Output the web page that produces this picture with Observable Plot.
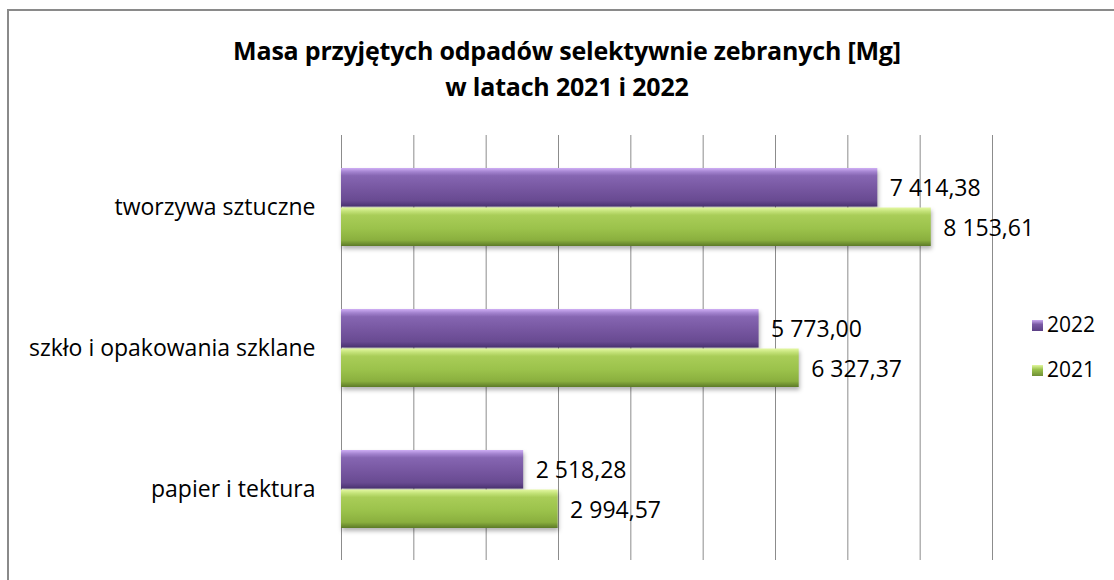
<!DOCTYPE html>
<html>
<head>
<meta charset="utf-8">
<script src="https://cdn.jsdelivr.net/npm/d3@7"></script>
<script src="https://cdn.jsdelivr.net/npm/@observablehq/plot@0.6"></script>
<style>
  body { margin: 0; background: #fff; font-family: "Open Sans", Lato, sans-serif; }
  #wrap { position: relative; width: 1114px; height: 580px; overflow: hidden; background: #fff; }
  #frame { position: absolute; left: 7px; top: 9px; width: 1200px; height: 700px; border: 2px solid #8a8a8a; box-sizing: border-box; }
  #title { position: absolute; left: 0; top: 32px; width: 1134px; text-align: center; font-weight: bold; font-size: 25px; line-height: 36px; color: #000; letter-spacing: -0.2px; }
  #chart { position: absolute; left: 0; top: 130px; }
  .legend { position: absolute; left: 1032px; font-size: 21px; line-height: 24px; color: #000; }
  .legend span.sw { display: inline-block; width: 11px; height: 11px; margin-right: 4px; vertical-align: 1px; }
  #chart svg .bars { filter: drop-shadow(1px 3px 2px rgba(0,0,0,0.3)); }
</style>
</head>
<body>
<div id="wrap">
  <div id="frame"></div>
  <div id="title">Masa przyjętych odpadów selektywnie zebranych [Mg]<br>w latach 2021 i 2022</div>
  <div id="chart"></div>
  <div class="legend" style="top:312px"><span class="sw" style="background:linear-gradient(#c9a8f0,#7a5aa5 40%,#5b3f85)"></span>2022</div>
  <div class="legend" style="top:357px"><span class="sw" style="background:linear-gradient(#e2f7a0,#9cc44c 40%,#6f8f35)"></span>2021</div>
</div>
<script>
const categories = ["tworzywa sztuczne", "szkło i opakowania szklane", "papier i tektura"];
const years = ["2022", "2021"];
const values2022 = [7414.38, 5773.00, 2518.28];
const values2021 = [8153.61, 6327.37, 2994.57];
const gridTicks = [0, 1000, 2000, 3000, 4000, 5000, 6000, 7000, 8000, 9000];

const pl = d3.formatLocale({decimal: ",", thousands: " ", grouping: [3], currency: ["", " zł"]});
const fmt = pl.format(",.2f");

const data2022 = categories.map((c, i) => ({category: c, year: years[0], value: values2022[i]}));
const data2021 = categories.map((c, i) => ({category: c, year: years[1], value: values2021[i]}));

const chart = Plot.plot({
  width: 1114,
  height: 450,
  marginLeft: 341,
  marginRight: 122,
  marginTop: 5,
  marginBottom: 20,
  style: {fontFamily: "'Open Sans', Lato, sans-serif", background: "transparent", overflow: "visible"},
  x: {domain: [0, 9000], axis: null},
  y: {domain: categories, padding: 0.45, paddingOuter: 0.225, axis: null},
  marks: [
    Plot.gridX(gridTicks, {stroke: "#8c8c8c", strokeOpacity: 1, strokeWidth: 1}),
    Plot.axisY({tickSize: 0, tickPadding: 26, fontSize: 23, label: null, color: "#000"}),
    Plot.barX(data2022, {y: "category", x: "value", fill: "url(#gradPurple)", insetBottom: 39.5, className: "bars"}),
    Plot.barX(data2021, {y: "category", x: "value", fill: "url(#gradGreen)", insetTop: 39.5, className: "bars"}),
    Plot.text(data2022, {y: "category", x: "value", text: d => fmt(d.value), dx: 12, dy: -19, textAnchor: "start", fontSize: 23, fill: "#000"}),
    Plot.text(data2021, {y: "category", x: "value", text: d => fmt(d.value), dx: 12, dy: 21, textAnchor: "start", fontSize: 23, fill: "#000"})
  ]
});

const svg = d3.select(chart);
const defs = svg.insert("defs", ":first-child");
function grad(id, stops) {
  const g = defs.append("linearGradient").attr("id", id).attr("x1", 0).attr("y1", 0).attr("x2", 0).attr("y2", 1);
  stops.forEach(([o, c]) => g.append("stop").attr("offset", o).attr("stop-color", c));
}
grad("gradPurple", [[0, "#cfaef5"], [0.1, "#a383cf"], [0.2, "#8666b2"], [0.55, "#7656a0"], [0.85, "#684a91"], [1, "#4a3270"]]);
grad("gradGreen", [[0, "#e4f8a2"], [0.1, "#c3e278"], [0.2, "#a9cd58"], [0.55, "#9bc24b"], [0.85, "#8aaf3e"], [1, "#5c7a27"]]);

document.getElementById("chart").appendChild(chart);
</script>
</body>
</html>
